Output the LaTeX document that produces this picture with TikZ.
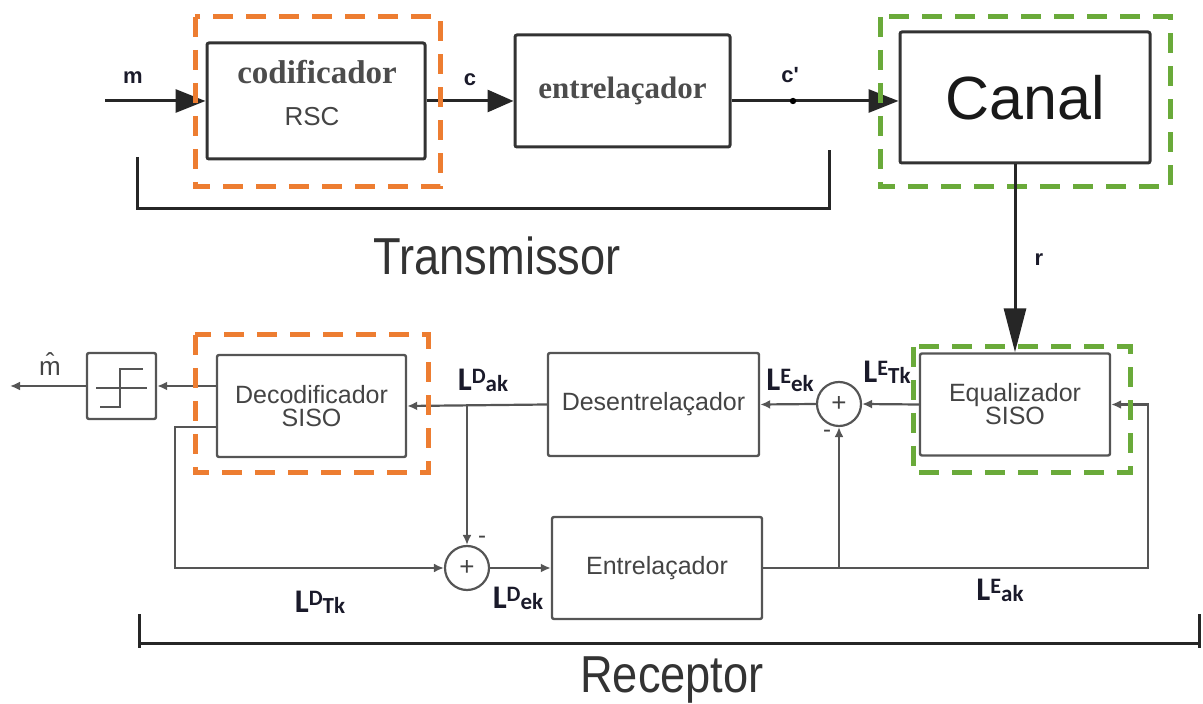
\documentclass[tikz,border=0pt]{standalone}
\usepackage{fontspec}
\setmainfont{Liberation Sans}
\newfontfamily\serifF{Liberation Serif}
\newfontfamily\calibF{Carlito}
\usetikzlibrary{arrows.meta}
\newcommand\setfs[1]{\fontsize{#1}{#1}\selectfont}
\newcommand\Llab[2]{{\calibF\bfseries\setfs{16.5}L\raisebox{3.4pt}{\setfs{11}#1}\raisebox{-0.6pt}{\setfs{11.5}#2}}}
\definecolor{orng}{HTML}{ED7D31}
\definecolor{grn}{HTML}{6AAA3A}
\definecolor{lin}{HTML}{555555}
\definecolor{txt}{HTML}{444444}
\definecolor{lab}{HTML}{1A1A2A}
\begin{document}
\begin{tikzpicture}[x=0.5pt,y=-0.5pt,
  topbox/.style={draw=black!80,line width=1.5pt,rounded corners=1pt,inner sep=0pt},
  botbox/.style={draw=lin,line width=1.2pt,rounded corners=1pt,inner sep=0pt,text=txt,align=center,font=\setfs{12.5}},
  sumc/.style={draw=lin,line width=1.1pt,circle,minimum size=22pt,inner sep=0pt,text=txt,font=\setfs{13}},
  bigarr/.style={draw=black!85,line width=1.5pt,-{Triangle[length=15pt,width=11.5pt]}},
  smarr/.style={draw=lin,line width=1.1pt,-{Latex[length=5pt,width=4.5pt]}},
  wire/.style={draw=lin,line width=1.1pt},
  orbox/.style={draw=orng,line width=2.5pt,dash pattern=on 10pt off 6.5pt},
  grbox/.style={draw=grn,line width=2.5pt,dash pattern=on 10pt off 6.5pt},
  sig/.style={font=\bfseries\setfs{11},text=lab,inner sep=0pt},
  llab/.style={text=lab,inner sep=0pt},
  bracket/.style={draw=black!85,line width=1.5pt},
  big/.style={text=black!80,inner sep=0pt}
]
\useasboundingbox (0,0) rectangle (1203,704);

% ---------- transmitter ----------
\node[topbox,minimum width=109pt,minimum height=58pt] (cod) at (316,101) {};
\node[text=black!70,font=\serifF\bfseries\setfs{16.5},inner sep=0pt] (codt) at (317,72) {codificador};
\node[text=txt,font=\setfs{13},inner sep=0pt] (rsc) at (312,117) {RSC};
\node[topbox,minimum width=107.5pt,minimum height=56pt,text=black!70,font=\serifF\bfseries\setfs{15.5}] (ent) at (622.5,91) {entrela\c{c}ador};
\node[topbox,minimum width=125pt,minimum height=65.5pt,text=black!90,font=\setfs{30.5}] (can) at (1025,97.5) {Canal};

\coordinate (mstart) at (105,101);
\draw[bigarr] (mstart) -- (cod.west);
\draw[bigarr,-{Triangle[length=13pt,width=11pt]}] (cod.east) -- (cod.east -| ent.west);
\draw[bigarr] (cod.east -| ent.east) -- (cod.east -| can.west);
\fill[black] (793,101) circle (1.6pt);

\node[sig] (lm) at (133,78) {m};
\node[sig] (lc) at (470,80) {c};
\node[sig] (lcp) at (790,75) {c\textquotesingle};

\draw[orbox] (195,17) rectangle (440,187);
\draw[grbox] (880,17) rectangle (1170,187);

\draw[bracket] (137,157) -- (137,209) -- (829,209) -- (829,150);
\node[big,font=\setfs{26}] (tx) at (497,256) {\scalebox{0.87}[1]{Transmissor}};

% ---------- receiver ----------
\node[botbox,minimum width=95pt,minimum height=51pt] (eq) at (1015,404.5) {Equalizador\\[-1pt]SISO};
\node[sumc] (sumR) at (839,404) {+};
\node[botbox,minimum width=105.5pt,minimum height=51.5pt] (des) at (653.5,404.5) {Desentrela\c{c}ador};
\node[botbox,minimum width=94.5pt,minimum height=51pt] (dec) at (311.5,406) {Decodificador\\[-1pt]SISO};
\node[botbox,minimum width=34.5pt,minimum height=33pt] (thr) at (121.5,386) {};
\node[sumc] (sumL) at (467,568) {+};
\node[botbox,minimum width=105pt,minimum height=51pt] (entB) at (657,568) {Entrela\c{c}ador};

% r arrow
\draw[bigarr,-{Triangle[length=22pt,width=11pt]}] (eq.north |- can.south) -- (eq.north);
\node[sig] (lr) at (1039,260) {r};

% threshold symbol
\draw[wire] (96,388) -- (147,388);
\draw[wire] (100,407) -- (120,407) -- (120,369) -- (143,369);

% connectors
\draw[smarr] (eq.west) -- (sumR.east);
\draw[smarr] (sumR.west) -- (des.east);
\draw[smarr] (des.west) -- (dec.east);
\draw[smarr] (sumL.north |- des.west) -- (sumL.north);
\draw[smarr] (dec.west |- thr.east) -- (thr.east);
\coordinate (out) at (10,386);
\draw[smarr] (thr.west) -- (out);
\coordinate (fbL) at (175,427);
\draw[smarr] (dec.west |- fbL) -- (fbL) |- (sumL.west);
\draw[smarr] (sumL.east) -- (entB.west);
\coordinate (fbR) at (1148,568);
\draw[smarr] (entB.east) -- (fbR) |- (eq.east);
\draw[smarr] (sumR.south |- entB.east) -- (sumR.south);

\node[text=txt,font=\setfs{12},inner sep=0pt] (mn1) at (482,540) {-};
\node[text=txt,font=\setfs{12},inner sep=0pt] (mn2) at (827,434) {-};

\node[text=txt,font=\setfs{13},inner sep=0pt] (mhat) at (50,364) {\^{m}};

% labels
\node[llab] (lDak) at (483,380) {\Llab{D}{ak}};
\node[llab] (lEek) at (790,380) {\Llab{E}{ek}};
\node[llab] (lETk) at (887,372) {\Llab{E}{Tk}};
\node[llab] (lDTk) at (320,602) {\Llab{D}{Tk}};
\node[llab] (lDek) at (518,598) {\Llab{D}{ek}};
\node[llab] (lEak) at (1000,590) {\Llab{E}{ak}};

% dashed frames
\draw[orbox] (195,335) rectangle (428,473);
\draw[grbox] (913,347) rectangle (1130,473);

% receptor bracket
\draw[bracket] (139,614) -- (139,648);
\draw[bracket] (139,643) -- (1199,643);
\draw[bracket] (1199,614) -- (1199,648);
\node[big,font=\setfs{26}] (rx) at (672,680) {\scalebox{0.87}[1]{Receptor}};
\end{tikzpicture}
\end{document}
